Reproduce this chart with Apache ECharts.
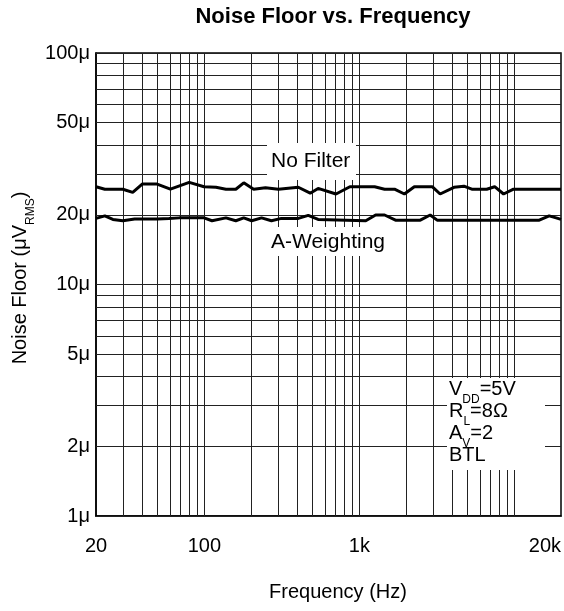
<!DOCTYPE html>
<html>
<head>
<meta charset="utf-8">
<script src="https://cdn.jsdelivr.net/npm/echarts@6/dist/echarts.min.js"></script>
<style>
html,body{margin:0;padding:0;background:#fff;}
#chart{width:564px;height:611px;}
</style>
</head>
<body>
<div id="chart"></div>
<script>
// ---- Data ----
const freqNF = [20,22.8,29.8,34.5,39.9,49.1,60.4,79.9,99.6,118.9,137.8,159.6,179.6,208,248,300.7,403.7,482,542,707,869,1255,1455,1686,1953,2263,2951,3320,4080,4727,5318,6634,7465,8522,9879,18610,20000];
const noFilter = [26.45,25.8,25.8,25.0,27.2,27.2,25.8,27.6,26.45,26.3,25.8,25.8,27.5,25.8,26.2,25.8,26.3,24.8,26.0,24.6,26.45,26.45,25.8,25.8,24.6,26.45,26.45,24.6,26.3,26.6,25.8,25.8,26.45,24.6,25.8,25.8,25.8];
const freqAW = [20,22.8,25.7,29.8,35.5,49.8,59.1,68.9,99.6,112,137.8,159.6,179.6,202,234,271,314,404,468,542,1100,1274,1455,1711,2473,2865,3176,14480,16775,18610,20000];
const aWeight = [19.3,19.8,19.1,18.85,19.2,19.2,19.3,19.4,19.4,18.85,19.4,18.85,19.4,18.85,19.4,18.85,19.3,19.3,19.9,19.1,18.85,19.96,19.96,18.97,18.97,19.96,18.97,18.97,19.8,19.4,19.1];

const xGridValues = [30,40,50,60,70,80,90,100,200,300,400,500,600,700,800,900,1000,2000,3000,4000,5000,6000,7000,8000,9000,10000];
const yGridValues = [1,2,3,4,5,6,7,8,9,10,20,30,40,50,60,70,80,90,100];
const yTickLabels = [1,2,5,10,20,50,100];
const xTickLabels = {20:'20',100:'100',1000:'1k',20000:'20k'};
const condLines = ['{a|V}{s|DD}{a|=5V}', '{a|R}{s|L}{a|=8Ω}', '{a|A}{s|V}{a|=2}', '{a|BTL}'];

const FONT = 'Liberation Sans, Arial, sans-serif';
const FS = 20;

const chart = echarts.init(document.getElementById('chart'), null, {renderer:'canvas'});

const vLines = xGridValues.map(v => ({xAxis: v}));
const hLines = yGridValues.map(v => ({
  yAxis: v,
  label: {show: yTickLabels.indexOf(v) >= 0}
}));

const subRich = () => ({
  a: {fontFamily: FONT, fontSize: FS, color: '#000', lineHeight: 22, verticalAlign: 'top'},
  s: {fontFamily: FONT, fontSize: 12, color: '#000', lineHeight: 27, verticalAlign: 'bottom'}
});

const condGraphics = condLines.map((t, i) => ({
  type: 'text', x: 449, y: 379 + i * 22, z: 19,
  style: {text: t, rich: subRich(), textVerticalAlign: 'top'}
}));

const option = {
  animation: false,
  backgroundColor: '#fff',
  grid: {left: 96, top: 53, right: -1, bottom: 95, show: true, borderColor: '#000', borderWidth: 1.5},
  xAxis: {
    type: 'log', logBase: 10, min: 20, max: 20000,
    axisLine: {show: true, lineStyle: {color: '#000', width: 1.5}},
    axisTick: {show: false},
    splitLine: {show: false},
    axisLabel: {
      show: true, color: '#000', fontFamily: FONT, fontSize: FS, margin: 20,
      showMinLabel: true, showMaxLabel: true, alignMaxLabel: 'right',
      formatter: v => xTickLabels[Math.round(v)] || ''
    }
  },
  yAxis: {
    type: 'log', logBase: 10, min: 1, max: 100,
    axisLine: {show: true, lineStyle: {color: '#000', width: 1.5}},
    axisTick: {show: false},
    splitLine: {show: false},
    axisLabel: {show: false}
  },
  series: [
    {
      type: 'line', name: 'vgrid', data: [], z: 1, silent: true,
      markLine: {
        silent: true, symbol: ['none','none'], animation: false,
        lineStyle: {color: '#222', width: 1, type: 'solid'},
        label: {show: false},
        data: vLines
      }
    },
    {
      type: 'line', name: 'hgrid', data: [], z: 1, silent: true,
      markLine: {
        silent: true, symbol: ['none','none'], animation: false,
        lineStyle: {color: '#222', width: 1, type: 'solid'},
        label: {show: false, position: 'start', distance: 6, color: '#000', fontFamily: FONT, fontSize: FS,
          formatter: p => p.value + 'μ'},
        data: hLines
      }
    },
    {
      type: 'line', name: 'No Filter', z: 10, symbol: 'none',
      lineStyle: {color: '#000', width: 3},
      data: freqNF.map((f,i) => [f, noFilter[i]])
    },
    {
      type: 'line', name: 'A-Weighting', z: 10, symbol: 'none',
      lineStyle: {color: '#000', width: 3},
      data: freqAW.map((f,i) => [f, aWeight[i]])
    }
  ],
  graphic: [
    {type: 'text', x: 333, y: 6, z: 20, style: {text: 'Noise Floor vs. Frequency', fontFamily: FONT, fontWeight: 'bold', fontSize: 22, fill: '#000', textAlign: 'center'}},
    {type: 'text', x: 338, y: 582, z: 20, style: {text: 'Frequency (Hz)', fontFamily: FONT, fontSize: FS, fill: '#000', textAlign: 'center'}},
    {type: 'text', x: 10, y: 278, rotation: Math.PI/2, z: 20, style: {
      text: '{a|Noise Floor (μV}{s|RMS}{a|)}', textAlign: 'center', textVerticalAlign: 'top',
      rich: subRich()
    }},
    {type: 'rect', shape: {x: 267, y: 143, width: 89, height: 37}, style: {fill: '#fff'}, z: 18},
    {type: 'text', x: 271, y: 151, z: 19, style: {text: 'No Filter', fontFamily: FONT, fontSize: 21, fill: '#000'}},
    {type: 'rect', shape: {x: 267, y: 227, width: 122, height: 29}, style: {fill: '#fff'}, z: 18},
    {type: 'text', x: 271, y: 232, z: 19, style: {text: 'A-Weighting', fontFamily: FONT, fontSize: 21, fill: '#000'}},
    {type: 'rect', shape: {x: 447, y: 378, width: 98, height: 92}, style: {fill: '#fff'}, z: 18}
  ].concat(condGraphics)
};
chart.setOption(option);
</script>
</body>
</html>
